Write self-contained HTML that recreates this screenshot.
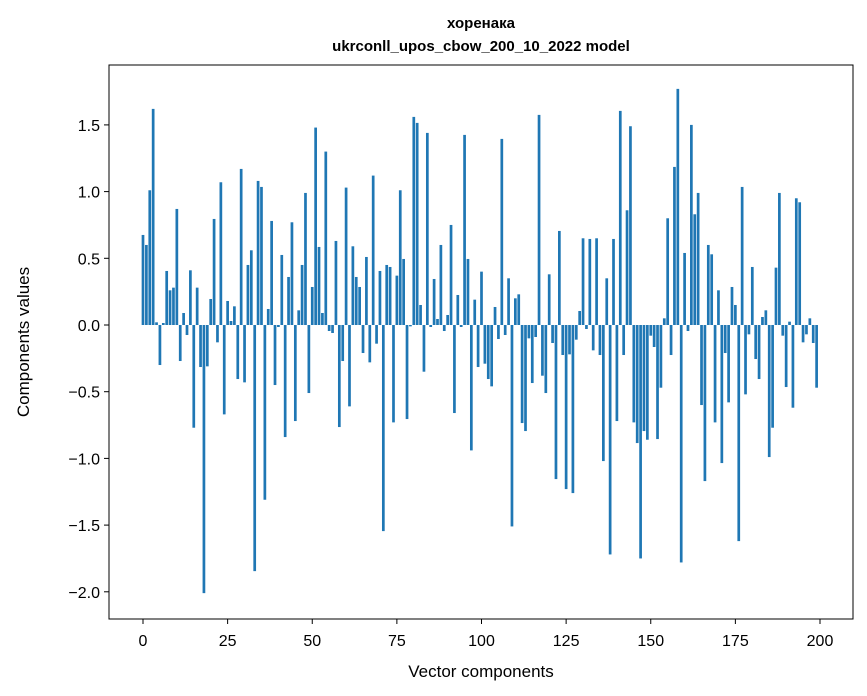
<!DOCTYPE html>
<html><head><meta charset="utf-8"><style>
body{margin:0;background:#fff;}
svg{display:block;font-family:"Liberation Sans","DejaVu Sans",sans-serif;}
</style></head><body>
<svg id="chart" width="867" height="696">
<rect width="867" height="696" fill="#fff"/>
<text x="481" y="28" text-anchor="middle" font-size="15" font-weight="bold" font-family="Liberation Sans, DejaVu Sans, sans-serif">хоренака</text>
<text x="481" y="51" text-anchor="middle" font-size="15" font-weight="bold">ukrconll_upos_cbow_200_10_2022 model</text>
<g id="bars"></g>
<g id="axes"></g>
<rect x="109" y="65" width="744" height="554" fill="none" stroke="#000" stroke-width="1"/>
<text x="481" y="677" text-anchor="middle" font-size="17">Vector components</text>
<text transform="translate(29,342) rotate(-90)" text-anchor="middle" font-size="17">Components values</text>
</svg>
<script>
const values = [0.675,0.60,1.01,1.62,0.02,-0.30,0.015,0.405,0.26,0.28,
0.87,-0.27,0.09,-0.075,0.41,-0.77,0.28,-0.315,-2.01,-0.31,
0.195,0.795,-0.13,1.07,-0.67,0.18,0.03,0.14,-0.405,1.17,
-0.43,0.45,0.56,-1.845,1.08,1.035,-1.31,0.12,0.78,-0.45,
-0.015,0.525,-0.84,0.36,0.77,-0.72,0.11,0.45,0.99,-0.51,
0.285,1.48,0.585,0.09,1.30,-0.045,-0.06,0.63,-0.765,-0.27,
1.03,-0.61,0.59,0.36,0.285,-0.21,0.51,-0.28,1.12,-0.14,
0.405,-1.545,0.45,0.435,-0.73,0.37,1.01,0.495,-0.705,-0.01,
1.56,1.515,0.15,-0.35,1.44,-0.015,0.345,0.045,0.60,-0.045,
0.075,0.75,-0.66,0.225,-0.015,1.425,0.495,-0.94,0.19,-0.315,
0.40,-0.29,-0.405,-0.46,0.135,-0.105,1.395,-0.075,0.35,-1.51,
0.20,0.23,-0.735,-0.795,-0.10,-0.435,-0.09,1.575,-0.38,-0.51,
0.38,-0.135,-1.155,0.705,-0.225,-1.23,-0.22,-1.26,-0.11,0.105,
0.65,-0.03,0.645,-0.19,0.65,-0.225,-1.02,0.35,-1.72,0.645,
-0.72,1.605,-0.225,0.86,1.49,-0.73,-0.885,-1.75,-0.795,-0.86,
-0.08,-0.165,-0.855,-0.47,0.05,0.80,-0.225,1.185,1.77,-1.78,
0.54,-0.045,1.50,0.83,0.99,-0.60,-1.17,0.60,0.53,-0.73,
0.26,-1.035,-0.21,-0.58,0.285,0.15,-1.62,1.035,-0.52,-0.07,
0.435,-0.255,-0.405,0.06,0.11,-0.99,-0.77,0.43,0.99,-0.08,
-0.465,0.025,-0.62,0.95,0.92,-0.13,-0.07,0.05,-0.135,-0.47];
const xTicks = [0,25,50,75,100,125,150,175,200];
const yTicks = [-2.0,-1.5,-1.0,-0.5,0.0,0.5,1.0,1.5];
const yTickLabels = ["\u22122.0","\u22121.5","\u22121.0","\u22120.5","0.0","0.5","1.0","1.5"];

const NS="http://www.w3.org/2000/svg";
function xs(v){return 143+v*3.385;}
function ys(v){return 325-v*133.4;}
const barW=0.8*3.385;
const gb=document.getElementById('bars');
values.forEach((v,i)=>{
  const r=document.createElementNS(NS,'rect');
  
  
  const y0=ys(0),y1=ys(v);
  r.setAttribute('x',xs(i)-barW/2);
  r.setAttribute('width',barW);
  r.setAttribute('y',Math.min(y0,y1));
  r.setAttribute('height',Math.abs(y1-y0));
  r.setAttribute('fill','#1f77b4');
  gb.appendChild(r);
});
const ga=document.getElementById('axes');
xTicks.forEach(t=>{
  const l=document.createElementNS(NS,'line');
  
  
  l.setAttribute('x1',xs(t));l.setAttribute('x2',xs(t));
  l.setAttribute('y1',619);l.setAttribute('y2',624);
  l.setAttribute('stroke','#000');
  ga.appendChild(l);
  const tx=document.createElementNS(NS,'text');
  
  
  tx.setAttribute('x',xs(t));tx.setAttribute('y',646);
  tx.setAttribute('text-anchor','middle');tx.setAttribute('font-size','16');
  tx.textContent=String(t);
  ga.appendChild(tx);
});
yTicks.forEach((t,i)=>{
  const l=document.createElementNS(NS,'line');
  
  
  l.setAttribute('x1',104);l.setAttribute('x2',109);
  l.setAttribute('y1',ys(t));l.setAttribute('y2',ys(t));
  l.setAttribute('stroke','#000');
  ga.appendChild(l);
  const tx=document.createElementNS(NS,'text');
  
  
  tx.setAttribute('x',100);tx.setAttribute('y',ys(t)+6);
  tx.setAttribute('text-anchor','end');tx.setAttribute('font-size','16');
  tx.textContent=yTickLabels[i];
  ga.appendChild(tx);
});
</script>
</body></html>
